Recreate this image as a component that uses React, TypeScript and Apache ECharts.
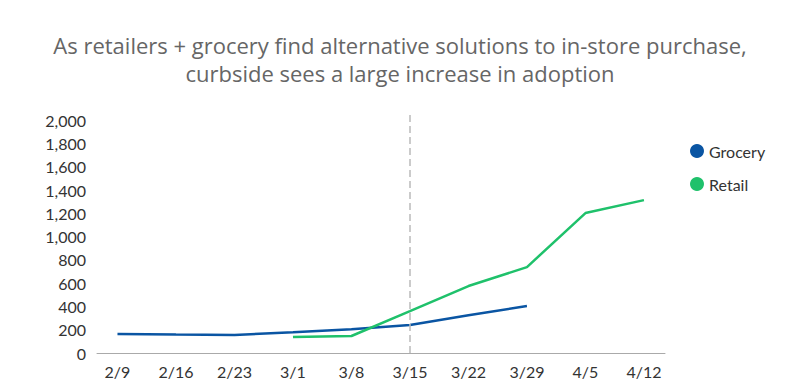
import React, { useEffect, useRef } from "react";
import * as echarts from "echarts";

const categories = ["2/9", "2/16", "2/23", "3/1", "3/8", "3/15", "3/22", "3/29", "4/5", "4/12"];
const groceryValues: (number | null)[] = [163, 158, 155, 178, 203, 240, 325, 403, null, null];
const retailValues: (number | null)[] = [null, null, null, 137, 146, 360, 575, 738, 1202, 1313];
const yTicks = [0, 200, 400, 600, 800, 1000, 1200, 1400, 1600, 1800, 2000];
const markerIndex = 5;

const FONT = "Lato, 'Open Sans', sans-serif";

export default function App() {
  const ref = useRef<HTMLDivElement>(null);
  useEffect(() => {
    if (!ref.current) return;
    const chart = echarts.init(ref.current, undefined, { renderer: "svg" });
    const toPairs = (vals: (number | null)[]) =>
      vals.map((v, i) => [i, v]).filter((p) => p[1] !== null);
    chart.setOption({
      animation: false,
      textStyle: { fontFamily: FONT },
      title: {
        text: "As retailers + grocery find alternative solutions to in-store purchase,\ncurbside sees a large increase in adoption",
        left: "center",
        top: 26,
        textStyle: { fontFamily: "'Open Sans', sans-serif", fontSize: 22, fontWeight: "normal", color: "#666", lineHeight: 28 },
      },
      legend: {
        orient: "vertical",
        left: 685,
        top: 138,
        icon: "circle",
        itemWidth: 14,
        itemHeight: 14,
        itemGap: 17,
        textStyle: { fontFamily: FONT, fontSize: 16, color: "#333" },
        data: ["Grocery", "Retail"],
      },
      grid: { left: 97, right: 135, top: 112, bottom: 37, containLabel: false },
      xAxis: {
        type: "value",
        min: -0.35,
        max: 9.36,
        splitLine: { show: false },
        axisLine: { show: true, lineStyle: { color: "#aaa", width: 1 } },
        axisTick: { show: false },
        axisLabel: {
          customValues: categories.map((_, i) => i),
          formatter: (v: number) => categories[Math.round(v)] ?? "",
          color: "#333",
          fontSize: 16,
          fontFamily: FONT,
          margin: 10,
        },
      },
      yAxis: {
        type: "value",
        min: 0,
        max: 2070,
        splitLine: { show: false },
        axisLine: { show: false },
        axisTick: { show: false },
        axisLabel: {
          customValues: yTicks,
          color: "#333",
          fontSize: 16,
          fontFamily: FONT,
          margin: 11,
          formatter: (v: number) => v.toLocaleString("en-US"),
        },
      },
      series: [
        {
          name: "Grocery",
          type: "line",
          data: toPairs(groceryValues),
          symbol: "none",
          lineStyle: { color: "#0a55a3", width: 2.5 },
          itemStyle: { color: "#0a55a3" },
          markLine: {
            silent: true,
            symbol: "none",
            label: { show: false },
            lineStyle: { color: "#bbb", type: [7, 4], width: 1.5 },
            data: [{ xAxis: markerIndex }],
          },
        },
        {
          name: "Retail",
          type: "line",
          data: toPairs(retailValues),
          symbol: "none",
          lineStyle: { color: "#1fc16b", width: 2.5 },
          itemStyle: { color: "#1fc16b" },
        },
      ],
    });
    return () => chart.dispose();
  }, []);
  return <div ref={ref} style={{ width: 800, height: 390, margin: -8 }} />;
}
